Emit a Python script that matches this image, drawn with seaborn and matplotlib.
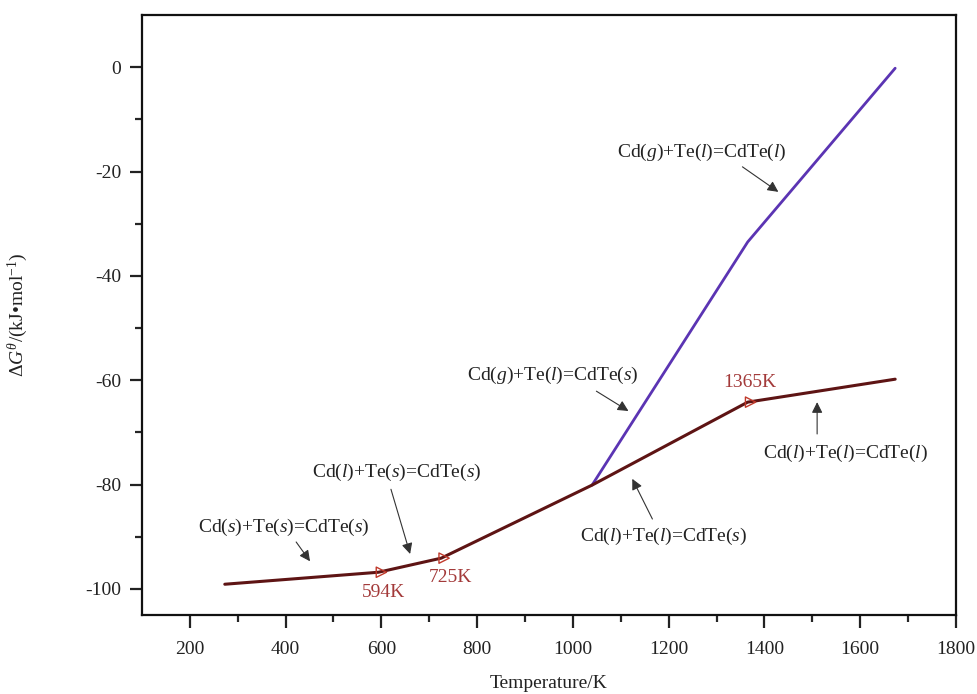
import matplotlib
matplotlib.use("Agg")
import matplotlib.pyplot as plt
import seaborn as sns
import pandas as pd

# Gibbs free energy of CdTe formation reactions
solid_T = [273, 594, 725, 1040, 1365, 1673]
solid_G = [-99.1, -96.8, -94.1, -80.1, -64.2, -59.8]
vapour_T = [1040, 1365, 1673]
vapour_G = [-80.1, -33.5, -0.2]

transition_T = [594, 725, 1365]
transition_G = [-96.8, -94.1, -64.2]
transition_labels = ["594K", "725K", "1365K"]

x_ticks = [200, 400, 600, 800, 1000, 1200, 1400, 1600, 1800]
y_ticks = [0, -20, -40, -60, -80, -100]

sns.set_theme(style="white")
plt.rcParams["font.family"] = ["Liberation Serif", "DejaVu Serif"]
plt.rcParams["mathtext.fontset"] = "custom"
plt.rcParams["mathtext.rm"] = "Liberation Serif"
plt.rcParams["mathtext.it"] = "Liberation Serif:italic"
plt.rcParams["mathtext.bf"] = "Liberation Serif:bold"
plt.rcParams["axes.unicode_minus"] = False

fig = plt.figure(figsize=(9.77, 6.94), dpi=100)
ax = fig.add_axes([0.1453, 0.1138, 0.8332, 0.8646])

df_s = pd.DataFrame({"T": solid_T, "G": solid_G})
df_v = pd.DataFrame({"T": vapour_T, "G": vapour_G})
sns.lineplot(data=df_v, x="T", y="G", ax=ax, color="#5b34b3", lw=2, sort=False)
sns.lineplot(data=df_s, x="T", y="G", ax=ax, color="#5e1414", lw=2.2, sort=False)

# phase-transition markers
ax.scatter([t + 6 for t in transition_T], transition_G, marker=">", s=55,
           facecolors="none", edgecolors="#c0392b", linewidths=1.0, zorder=5)
label_pos = [(604, -100.6), (744, -97.9), (1370, -60.4)]
for (tx, ty), lab in zip(label_pos, transition_labels):
    ax.text(tx, ty, lab, color="#a33a3a", fontsize=14, ha="center", va="center")

reactions = [
    ("Cd($s$)+Te($s$)=CdTe($s$)", (397, -88.2), (422, -91.0), (451, -94.7)),
    ("Cd($l$)+Te($s$)=CdTe($s$)", (633, -77.6), (620, -80.9), (660, -93.3)),
    ("Cd($g$)+Te($l$)=CdTe($s$)", (959, -59.0), (1049, -62.1), (1116, -65.9)),
    ("Cd($g$)+Te($l$)=CdTe($l$)", (1270, -16.3), (1354, -19.1), (1429, -23.9)),
    ("Cd($l$)+Te($l$)=CdTe($s$)", (1189, -89.9), (1166, -86.6), (1124, -78.9)),
    ("Cd($l$)+Te($l$)=CdTe($l$)", (1569, -74.0), (1510, -70.3), (1510, -64.2)),
]
for text, tpos, tail, head in reactions:
    ax.text(tpos[0], tpos[1], text, fontsize=14, ha="center", va="center",
            color="#222222")
    ax.annotate("", xy=head, xytext=tail,
                arrowprops=dict(arrowstyle="-|>", color="#333333", lw=0.8,
                                mutation_scale=16, shrinkA=0, shrinkB=0))

ax.set_xlim(100, 1800)
ax.set_ylim(-105, 10)
ax.set_xticks(x_ticks)
ax.set_yticks(y_ticks)
ax.set_xticks(range(300, 1800, 200), minor=True)
ax.set_yticks(range(-90, 10, 20), minor=True)
ax.tick_params(axis="both", which="major", direction="out", length=9, width=1.6,
               labelsize=14, colors="#222222", bottom=True, left=True, top=False, right=False)
ax.tick_params(axis="both", which="minor", direction="out", length=5, width=1.6,
               bottom=True, left=True, top=False, right=False)
ax.tick_params(axis="x", pad=10)
ax.tick_params(axis="y", pad=6)
for sp in ax.spines.values():
    sp.set_color("#111111")
    sp.set_linewidth(1.6)

ax.set_xlabel("Temperature/K", fontsize=14, labelpad=12, color="#222222")
ax.set_ylabel("$\\Delta G^{\\theta}$/(kJ\u2022mol$^{-1}$)", fontsize=14,
              labelpad=40, color="#222222")

fig.savefig("out.png", dpi=100, facecolor="white")
